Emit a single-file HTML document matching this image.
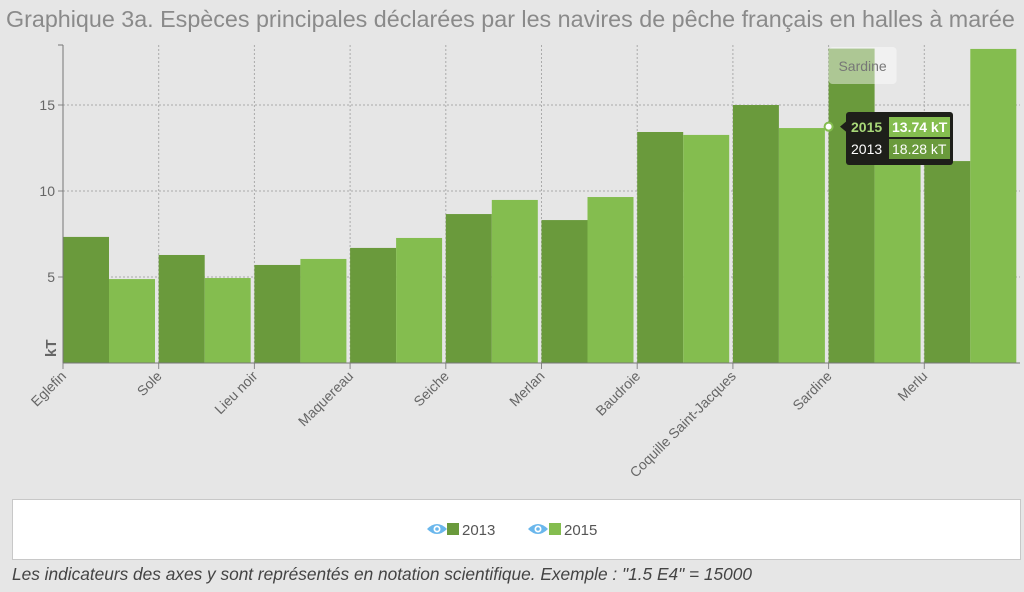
<!DOCTYPE html>
<html><head><meta charset="utf-8"><style>
html,body{margin:0;padding:0;background:#e6e6e6;width:1024px;height:592px;overflow:hidden;font-family:"Liberation Sans",sans-serif}
#title{position:absolute;left:6px;top:6px;font-size:23.3px;color:#8a8a8a;white-space:nowrap}
#legend{position:absolute;left:12px;top:499px;width:1009px;height:61px;background:#fff;border:1px solid #c8c8c8;box-sizing:border-box}
#note{position:absolute;left:12px;top:564px;font-size:17.3px;font-style:italic;color:#444;white-space:nowrap}
</style></head><body>
<div id="title">Graphique 3a. Espèces principales déclarées par les navires de pêche français en halles à marée</div>
<svg id="chart" width="1024" height="500" style="position:absolute;left:0;top:0"></svg>
<div id="legend">
<svg width="1009" height="61">
<g>
<path d="M414 29 q10 -10 20 0 q-10 10 -20 0z" fill="#6ab7ec"/><circle cx="424" cy="29" r="3.5" fill="#fff"/><circle cx="424" cy="29" r="1.8" fill="#6ab7ec"/>
<rect x="434" y="23" width="12" height="12" fill="#6a9a3c"/><text x="449" y="35" font-size="15" fill="#555">2013</text></g>
<g>
<path d="M515 29 q10 -10 20 0 q-10 10 -20 0z" fill="#6ab7ec"/><circle cx="525" cy="29" r="3.5" fill="#fff"/><circle cx="525" cy="29" r="1.8" fill="#6ab7ec"/>
<rect x="536" y="23" width="12" height="12" fill="#84bd4f"/><text x="551" y="35" font-size="15" fill="#555">2015</text></g>
</svg></div>
<div id="note">Les indicateurs des axes y sont représentés en notation scientifique. Exemple : "1.5 E4" = 15000</div>
<script>
const categories=["Eglefin","Sole","Lieu noir","Maquereau","Seiche","Merlan","Baudroie","Coquille Saint-Jacques","Sardine","Merlu"];
const values2013=[7.33,6.28,5.70,6.69,8.66,8.31,13.43,15.0,18.28,11.74];
const values2015=[4.88,4.94,6.05,7.27,9.48,9.65,13.26,13.66,13.74,18.26];
const yTicks=[5,10,15];
const NS="http://www.w3.org/2000/svg";
const svg=document.getElementById('chart');
const x0=63,x1=1020,y0=363,pxPer=17.2,gw=(x1-x0)/categories.length;
const y=v=>y0-v*pxPer;
function mk(t,a,p){const e=document.createElementNS(NS,t);for(const k in a)e.setAttribute(k,a[k]);(p||svg).appendChild(e);return e;}
yTicks.forEach(t=>{
 const g=mk('line',{x1:x0,x2:x1,y1:y(t),y2:y(t),stroke:'#aaa','stroke-dasharray':'2,2'});
 
 
 mk('line',{x1:x0-5,x2:x0,y1:y(t),y2:y(t),stroke:'#888'});
 const l=mk('text',{x:x0-8,y:y(t)+5,'text-anchor':'end','font-size':14,fill:'#666'});l.textContent=t;
 
 
});
categories.forEach((c,i)=>{
 const gx=x0+i*gw;
 if(i>0) mk('line',{x1:gx,x2:gx,y1:45,y2:y0,stroke:'#aaa','stroke-dasharray':'2,2'});
 const b1=mk('rect',{x:gx,y:y(values2013[i]),width:46,height:values2013[i]*pxPer,fill:'#6a9a3c'});
 
 
 const b2=mk('rect',{x:gx+46,y:y(values2015[i]),width:46,height:values2015[i]*pxPer,fill:'#84bd4f'});
 
 
 mk('line',{x1:gx,x2:gx,y1:y0,y2:y0+6,stroke:'#888'});
 const t=mk('text',{x:gx+4,y:y0+14,'text-anchor':'end','font-size':14,fill:'#666',transform:`rotate(-45 ${gx+4} ${y0+14})`});
 t.textContent=c;
 
 
});
mk('line',{x1:x0,x2:x0,y1:45,y2:y0,stroke:'#777'});
mk('line',{x1:x0-5,x2:x0,y1:45,y2:45,stroke:'#777'});
mk('line',{x1:x0,x2:x1,y1:y0,y2:y0,stroke:'#777'});
const yl=mk('text',{x:56,y:357,'font-size':15,'font-weight':'bold',fill:'#666',transform:'rotate(-90 56 357)'});yl.textContent='kT';


const si=8,sx=x0+si*gw;
mk('rect',{x:sx,y:47,width:68,height:37,rx:4,fill:'#fff','fill-opacity':0.45});
const sl=mk('text',{x:sx+34,y:71,'text-anchor':'middle','font-size':14,fill:'#777'});sl.textContent=categories[si];


const py=y(values2015[si]);
mk('circle',{cx:sx,cy:py,r:4,fill:'#fff',stroke:'#84bd4f','stroke-width':2});
const tg=mk('g',{});


mk('rect',{x:846,y:112,width:107,height:53,rx:3,fill:'#1e1f1a'},tg);
mk('path',{d:`M846 ${py-5} L840 ${py} L846 ${py+5}z`,fill:'#1e1f1a'},tg);
mk('rect',{x:889,y:117,width:61,height:20,fill:'#84bd4f'},tg);
mk('rect',{x:889,y:139,width:61,height:20,fill:'#6a9a3c'},tg);
let t1=mk('text',{x:851,y:132,'font-size':14,'font-weight':'bold',fill:'#a8d878'},tg);t1.textContent='2015';
let t2=mk('text',{x:892,y:132,'font-size':14,'font-weight':'bold',fill:'#fff'},tg);t2.textContent=values2015[si].toFixed(2)+' kT';
let t3=mk('text',{x:851,y:154,'font-size':14,fill:'#fff'},tg);t3.textContent='2013';
let t4=mk('text',{x:892,y:154,'font-size':14,fill:'#fff'},tg);t4.textContent=values2013[si].toFixed(2)+' kT';
</script>
</body></html>
